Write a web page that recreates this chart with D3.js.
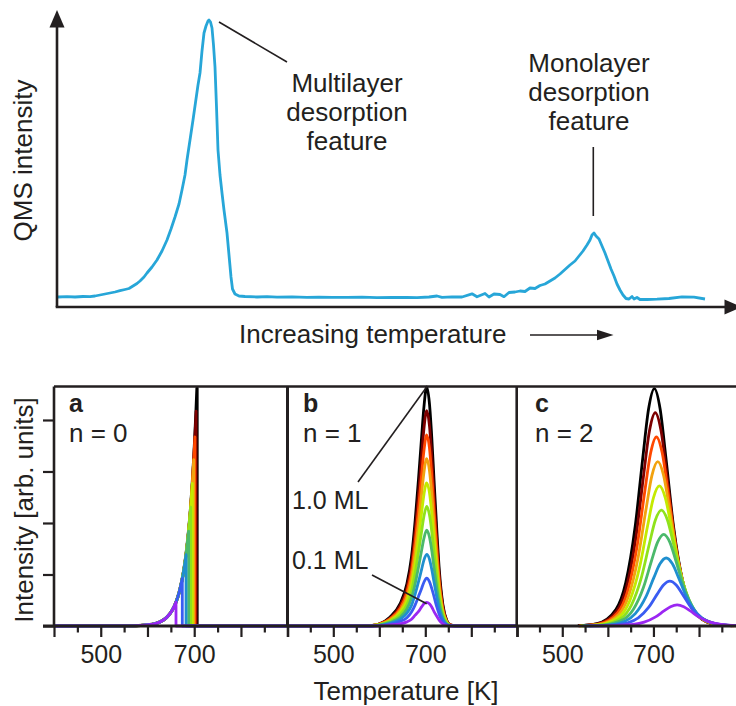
<!DOCTYPE html>
<html>
<head>
<meta charset="utf-8">
<script src="https://cdn.jsdelivr.net/npm/d3@7"></script>
<style>
  html, body { margin: 0; padding: 0; background: #fff; }
  svg { display: block; font-family: "Liberation Sans", Arial, Helvetica, sans-serif; }
</style>
</head>
<body>
<svg id="fig" width="736" height="706"></svg>
<script>
// ---------- Upper trace: measured QMS signal vs. increasing temperature (arbitrary units) ----------
const topT = [1,10,18,26,33,38,43,48,53,58,63,68,72,76,80,83,87,90,95,100,105,110,114,118,122,125,128,130,133,136,139,141,143,145,147,149,151,152,153.5,155,156.5,158,159.5,161,163,165,167,170,172,174,175.5,178,182,188,200,210,220,235,250,262,275,290,305,320,335,350,360,372,380,385,395,405,415,420,428,432,437,443,447,452,458,463,468,473,478,483,488,493,498,503,508,513,518,522,526,530,533,535,537,539,542,545,548,551,554,557,560,563,566,569,572,575,577,580,583,590,600,612,625,637,648];
const topSignal = [10,10.3,10,10.5,10.3,11,12,13,14,15,16.3,17.5,18.5,21,23.5,26,30,34,40,47,56,67,78,90,103,117,132,147,167,187,208,222,234,256,274,281,286,287,285,279,262,240,200,157,132,114,97,74,52,30,18,13,11,10.5,10,10.3,9.8,10.2,9.6,9.9,9.7,9.6,9.8,9.3,9.5,9.7,9.3,10,11,9.6,10.2,10,13.2,10.2,13.5,10,13,12.5,10.3,14.5,15,16,15.5,19,18.5,21.5,23,26,29,33,37.5,42,46,51,56,62,67,72,74,71,68,61,54,46,38,31,23,17,12,8.5,8,10.5,8,9.5,7.5,7.5,7.8,8.5,10.2,9.8,8];

// ---------- Lower panels: simulated TPD spectra for initial coverages 1.0 ... 0.1 ML ----------
const coverages = [1.0, 0.9, 0.8, 0.7, 0.6, 0.5, 0.4, 0.3, 0.2, 0.1];
const coverageColors = ["#000000", "#7d0000", "#ff4800", "#f2a20f", "#c4ea00", "#8fe21c", "#4bb96b", "#1f8fcf", "#3a5cf2", "#9b27f2"];

// n = 0: common leading edge, each spectrum ends abruptly when its coverage is used up
const zeroOrderEdgeT = [400, 560, 580, 600, 615, 627, 641, 652, 661, 668, 674.5, 680, 682.5, 688, 692.5, 696, 699, 701.5, 704, 706];
const zeroOrderEdgeRate = [0, 0.003, 0.007, 0.02, 0.043, 0.08, 0.165, 0.29, 0.46, 0.66, 0.92, 1.22, 1.385, 1.84, 2.31, 2.77, 3.23, 3.67, 4.17, 4.62];
const zeroOrderEndT = [706, 704, 701.5, 699, 696, 692.5, 688, 682.5, 674.5, 661];

// n = 1: common peak temperature
const firstOrderT = [400, 560, 585, 601, 623, 645, 660, 670, 678, 685, 692, 697, 703, 709, 714, 719, 725, 730.5, 738, 746.5, 754, 770, 900];
const firstOrderRate = [
  [0, 0, 0.01, 0.045, 0.17, 0.43, 0.82, 1.34, 2.05, 2.83, 3.67, 4.25, 4.64, 4.32, 3.67, 2.83, 1.86, 1.08, 0.43, 0.11, 0.02, 0, 0],
  [0, 0, 0.01, 0.04, 0.15, 0.39, 0.74, 1.21, 1.85, 2.55, 3.30, 3.83, 4.18, 3.89, 3.30, 2.55, 1.67, 0.97, 0.39, 0.10, 0.02, 0, 0],
  [0, 0, 0.01, 0.04, 0.14, 0.34, 0.66, 1.07, 1.64, 2.26, 2.94, 3.40, 3.71, 3.46, 2.94, 2.26, 1.49, 0.86, 0.34, 0.09, 0.02, 0, 0],
  [0, 0, 0.01, 0.03, 0.12, 0.30, 0.57, 0.94, 1.44, 1.98, 2.57, 2.98, 3.25, 3.02, 2.57, 1.98, 1.30, 0.76, 0.30, 0.08, 0.01, 0, 0],
  [0, 0, 0.01, 0.03, 0.10, 0.26, 0.49, 0.80, 1.23, 1.70, 2.20, 2.55, 2.78, 2.59, 2.20, 1.70, 1.12, 0.65, 0.26, 0.07, 0.01, 0, 0],
  [0, 0, 0.01, 0.02, 0.09, 0.22, 0.41, 0.67, 1.03, 1.42, 1.84, 2.13, 2.32, 2.16, 1.84, 1.42, 0.93, 0.54, 0.22, 0.06, 0.01, 0, 0],
  [0, 0, 0, 0.02, 0.07, 0.17, 0.33, 0.54, 0.82, 1.13, 1.47, 1.70, 1.86, 1.73, 1.47, 1.13, 0.74, 0.43, 0.17, 0.04, 0.01, 0, 0],
  [0, 0, 0, 0.01, 0.05, 0.13, 0.25, 0.40, 0.62, 0.85, 1.10, 1.28, 1.39, 1.30, 1.10, 0.85, 0.56, 0.32, 0.13, 0.03, 0.01, 0, 0],
  [0, 0, 0, 0.01, 0.03, 0.09, 0.16, 0.27, 0.41, 0.57, 0.73, 0.85, 0.93, 0.86, 0.73, 0.57, 0.37, 0.22, 0.09, 0.02, 0, 0, 0],
  [0, 0, 0, 0, 0.02, 0.04, 0.08, 0.13, 0.21, 0.28, 0.37, 0.43, 0.46, 0.43, 0.37, 0.28, 0.19, 0.11, 0.04, 0.01, 0, 0, 0]
];

// n = 2: peaks move to higher temperature as coverage drops
const secondOrderT = [
  [534, 576, 618, 639, 660, 676.8, 689.4, 702, 714.6, 727.2, 744, 765, 786, 828, 870],
  [535.2, 577.4, 619.6, 640.7, 661.8, 678.7, 691.3, 704, 716.7, 729.3, 746.2, 767.3, 788.4, 830.6, 872.8],
  [536.5, 579, 621.5, 642.8, 664, 681, 693.8, 706.5, 719.3, 732, 749, 770.3, 791.5, 834, 876.5],
  [537.9, 580.8, 623.7, 645.2, 666.6, 683.8, 696.6, 709.5, 722.4, 735.2, 752.4, 773.9, 795.3, 838.2, 881.1],
  [539.8, 583.1, 626.4, 648.1, 669.7, 687, 700, 713, 726, 739, 756.3, 778, 799.6, 842.9, 886.2],
  [541.9, 585.8, 629.7, 651.7, 673.6, 691.2, 704.3, 717.5, 730.7, 743.8, 761.4, 783.4, 805.3, 849.2, 893.1],
  [544.5, 589, 633.5, 655.8, 678, 695.8, 709.2, 722.5, 735.9, 749.2, 767, 789.3, 811.5, 856, 900.5],
  [547.2, 592.4, 637.6, 660.2, 682.8, 700.9, 714.4, 728, 741.6, 755.1, 773.2, 795.8, 818.4, 863.6, 908.8],
  [551.2, 597.4, 643.6, 666.7, 689.8, 708.3, 722.1, 736, 749.9, 763.7, 782.2, 805.3, 828.4, 874.6, 920.8],
  [559.2, 607.4, 655.6, 679.7, 703.8, 723.1, 737.5, 752, 766.5, 780.9, 800.2, 824.3, 848.4, 896.6, 944.8]
];
const secondOrderRate = [
  [0.006, 0.046, 0.326, 0.833, 1.936, 3.28, 4.219, 4.61, 4.219, 3.28, 1.936, 0.833, 0.326, 0.046, 0.006],
  [0.005, 0.041, 0.293, 0.748, 1.739, 2.946, 3.789, 4.14, 3.789, 2.946, 1.739, 0.748, 0.293, 0.041, 0.005],
  [0.005, 0.036, 0.259, 0.663, 1.541, 2.612, 3.358, 3.67, 3.358, 2.612, 1.541, 0.663, 0.259, 0.036, 0.005],
  [0.004, 0.032, 0.226, 0.576, 1.34, 2.27, 2.919, 3.19, 2.919, 2.27, 1.34, 0.576, 0.226, 0.032, 0.004],
  [0.004, 0.027, 0.192, 0.492, 1.142, 1.936, 2.489, 2.72, 2.489, 1.936, 1.142, 0.492, 0.192, 0.027, 0.004],
  [0.003, 0.022, 0.159, 0.407, 0.945, 1.601, 2.059, 2.25, 2.059, 1.601, 0.945, 0.407, 0.159, 0.022, 0.003],
  [0.002, 0.018, 0.126, 0.322, 0.748, 1.267, 1.629, 1.78, 1.629, 1.267, 0.748, 0.322, 0.126, 0.018, 0.002],
  [0.002, 0.013, 0.093, 0.239, 0.554, 0.939, 1.208, 1.32, 1.208, 0.939, 0.554, 0.239, 0.093, 0.013, 0.002],
  [0.001, 0.009, 0.062, 0.157, 0.365, 0.619, 0.796, 0.87, 0.796, 0.619, 0.365, 0.157, 0.062, 0.009, 0.001],
  [0.001, 0.004, 0.029, 0.074, 0.172, 0.292, 0.375, 0.41, 0.375, 0.292, 0.172, 0.074, 0.029, 0.004, 0.001]
];

const tempMajorTicks = [400, 500, 600, 700, 800, 900];
const tempMinorTicks = [450, 550, 650, 750, 850];
const tempTickLabels = [500, 700];
const intensityTicks = [0, 1, 2, 3, 4];
const panelLetters = ["a", "b", "c"];
const panelOrders = ["n = 0", "n = 1", "n = 2"];

// ---------- drawing ----------
const ink = "#231f20";
const svg = d3.select("#fig");

// Upper chart
const xTop = d3.scaleLinear().domain([0, 679]).range([57, 736]);
const yTop = d3.scaleLinear().domain([0, 297]).range([307, 10]);

const upper = svg.append("g");
upper.append("path")
  .datum(d3.zip(topT, topSignal))
  .attr("fill", "none")
  .attr("stroke", "#27a6d8")
  .attr("stroke-width", 2.8)
  .attr("stroke-linejoin", "round")
  .attr("d", d3.line().x(d => xTop(d[0])).y(d => yTop(d[1])));

// axes with arrowheads
upper.append("line").attr("x1", 57).attr("y1", 307).attr("x2", 57).attr("y2", 24)
  .attr("stroke", ink).attr("stroke-width", 2.6);
upper.append("path").attr("d", "M57,10 L49.5,27.5 L64.5,27.5 Z").attr("fill", ink);
upper.append("line").attr("x1", 55.7).attr("y1", 307).attr("x2", 728).attr("y2", 307)
  .attr("stroke", ink).attr("stroke-width", 2.6);
upper.append("path").attr("d", "M742,307 L724.5,299.5 L724.5,314.5 Z").attr("fill", ink);

upper.append("text")
  .attr("transform", "translate(32,160.5) rotate(-90)")
  .attr("text-anchor", "middle").attr("font-size", 26).attr("fill", ink)
  .text("QMS intensity");

upper.append("text").attr("x", 239).attr("y", 342.5)
  .attr("font-size", 26).attr("fill", ink).text("Increasing temperature");
upper.append("line").attr("x1", 530).attr("y1", 335).attr("x2", 600).attr("y2", 335)
  .attr("stroke", ink).attr("stroke-width", 1.6);
upper.append("path").attr("d", "M613.5,335 L597,329.8 L597,340.2 Z").attr("fill", ink);

// annotations
const multiLines = ["Multilayer", "desorption", "feature"];
const monoLines = ["Monolayer", "desorption", "feature"];
upper.append("text").attr("text-anchor", "middle").attr("font-size", 26).attr("fill", ink)
  .selectAll("tspan").data(multiLines).join("tspan")
  .attr("x", 347).attr("y", (d, i) => 91.5 + i * 29.3).text(d => d);
upper.append("text").attr("text-anchor", "middle").attr("font-size", 26).attr("fill", ink)
  .selectAll("tspan").data(monoLines).join("tspan")
  .attr("x", 589).attr("y", (d, i) => 71.5 + i * 29.3).text(d => d);

upper.append("line").attr("x1", 219).attr("y1", 22).attr("x2", 287).attr("y2", 62)
  .attr("stroke", ink).attr("stroke-width", 1.6);
upper.append("line").attr("x1", xTop(536.3)).attr("y1", 147).attr("x2", xTop(536.3)).attr("y2", 216)
  .attr("stroke", ink).attr("stroke-width", 1.6);

// Lower panels
const y = d3.scaleLinear().domain([0, 4.65]).range([626, 386.5]);
const panelRanges = [[54, 287.7], [287.3, 517.3], [516.7, 744.6]];
const xs = panelRanges.map(r => d3.scaleLinear().domain([400, 900]).range(r));
const labelX = [69, 303, 535];

const smooth = (x) => d3.line().x(d => x(d[0])).y(d => y(d[1])).curve(d3.curveMonotoneX);

const lower = svg.append("g");

// n = 0
{
  const x = xs[0];
  const edge = d3.zip(zeroOrderEdgeT, zeroOrderEdgeRate);
  coverages.forEach((c, i) => {
    const endT = zeroOrderEndT[i];
    const pts = edge.filter(d => d[0] <= endT);
    const d = smooth(x)(pts) + `L${x(endT)},${y(0)}L${x(900)},${y(0)}`;
    lower.append("path").attr("d", d).attr("fill", "none")
      .attr("stroke", coverageColors[i]).attr("stroke-width", i === 0 ? 3.2 : 2.8)
      .attr("stroke-linejoin", "round");
  });
}
// n = 1
{
  const x = xs[1];
  coverages.forEach((c, i) => {
    lower.append("path").datum(d3.zip(firstOrderT, firstOrderRate[i]))
      .attr("d", smooth(x)).attr("fill", "none")
      .attr("stroke", coverageColors[i]).attr("stroke-width", 2.8);
  });
}
// n = 2
{
  const x = xs[2];
  coverages.forEach((c, i) => {
    lower.append("path").datum(d3.zip(secondOrderT[i], secondOrderRate[i]))
      .attr("d", smooth(x)).attr("fill", "none")
      .attr("stroke", coverageColors[i]).attr("stroke-width", 2.8);
  });
}

// frames and axes
const frame = lower.append("g").attr("stroke", ink).attr("stroke-width", 2.6);
frame.append("line").attr("x1", 54).attr("x2", 736).attr("y1", y(4.65)).attr("y2", y(4.65));
panelRanges.forEach(r => {
  frame.append("line").attr("x1", r[0]).attr("x2", r[0]).attr("y1", y(0)).attr("y2", y(4.65));
});
frame.append("line").attr("x1", panelRanges[0][1]).attr("x2", panelRanges[0][1]).attr("y1", y(0)).attr("y2", y(4.65));

xs.forEach((x, p) => {
  const gMaj = lower.append("g").attr("transform", `translate(0,${y(0)})`)
    .call(d3.axisBottom(x).tickValues(tempMajorTicks).tickSize(11).tickPadding(8)
      .tickFormat(d => tempTickLabels.includes(d) ? d : ""));
  const gMin = lower.append("g").attr("transform", `translate(0,${y(0)})`)
    .call(d3.axisBottom(x).tickValues(tempMinorTicks).tickSize(6.5).tickFormat(""));
  [gMaj, gMin].forEach(g => {
    g.select(".domain").remove();
    g.selectAll(".tick line").attr("stroke", ink).attr("stroke-width", 2.2);
    g.selectAll(".tick text").attr("font-size", 25).attr("fill", ink)
      .attr("font-family", "\"Liberation Sans\", Arial, sans-serif");
  });
});

const gY = lower.append("g").attr("transform", `translate(${panelRanges[0][0]},0)`)
  .call(d3.axisLeft(y).tickValues(intensityTicks).tickSize(11).tickFormat(""));
gY.select(".domain").remove();
gY.selectAll(".tick line").attr("stroke", ink).attr("stroke-width", 2.2);

lower.append("line").attr("x1", 43).attr("x2", 736).attr("y1", y(0)).attr("y2", y(0))
  .attr("stroke", ink).attr("stroke-width", 2.8);

// panel labels
panelLetters.forEach((l, p) => {
  lower.append("text").attr("x", labelX[p]).attr("y", 411.5)
    .attr("font-size", 25).attr("font-weight", "bold").attr("fill", ink).text(l);
  lower.append("text").attr("x", labelX[p]).attr("y", 442)
    .attr("font-size", 26).attr("fill", ink).text(panelOrders[p]);
});

// coverage annotations in panel b
const xb = xs[1];
lower.append("line").attr("x1", xb(703)).attr("y1", y(firstOrderRate[0][12]))
  .attr("x2", 358).attr("y2", 482).attr("stroke", ink).attr("stroke-width", 1.6);
lower.append("text").attr("x", 292).attr("y", 508.5).attr("font-size", 25).attr("fill", ink).text("1.0 ML");
lower.append("line").attr("x1", 372).attr("y1", 575)
  .attr("x2", xb(703)).attr("y2", y(firstOrderRate[9][12]) + 1.5).attr("stroke", ink).attr("stroke-width", 1.6);
lower.append("text").attr("x", 292).attr("y", 568.5).attr("font-size", 25).attr("fill", ink).text("0.1 ML");

// axis titles
lower.append("text")
  .attr("transform", "translate(33,510) rotate(-90)")
  .attr("text-anchor", "middle").attr("font-size", 26).attr("fill", ink)
  .text("Intensity [arb. units]");
lower.append("text").attr("x", 406).attr("y", 700)
  .attr("text-anchor", "middle").attr("font-size", 26).attr("fill", ink)
  .text("Temperature [K]");
</script>
</body>
</html>
